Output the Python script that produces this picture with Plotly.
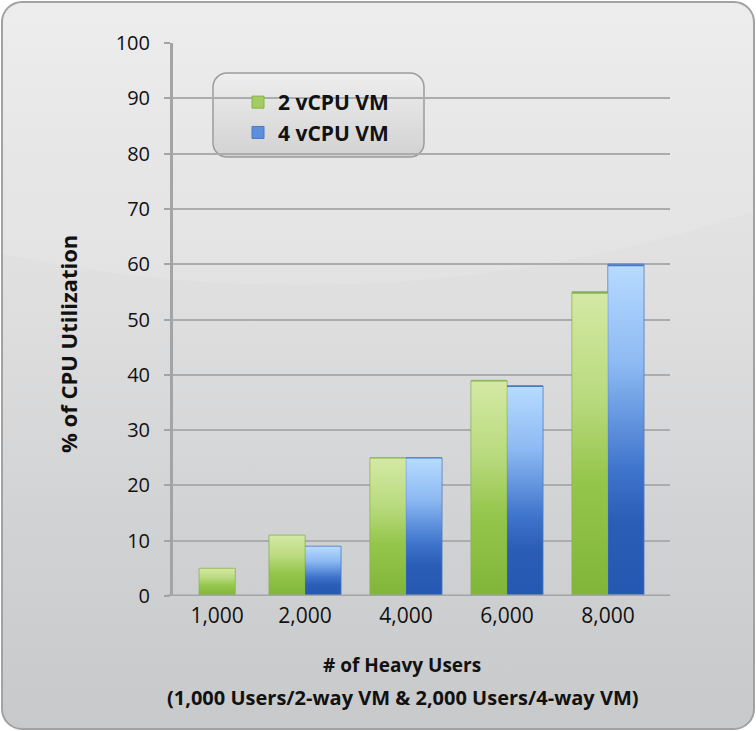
import urllib.parse
import plotly.graph_objects as go

# Chart data
users = ["1,000", "2,000", "4,000", "6,000", "8,000"]
cpu_2vcpu = [5, 11, 25, 39, 55]
cpu_4vcpu = [None, 9, 25, 38, 60]
y_ticks = [0, 10, 20, 30, 40, 50, 60, 70, 80, 90, 100]

# Layout geometry
W, H = 756, 731
ML, MR, MT, MB = 173, 86, 43, 135
PW, PH = W - ML - MR, H - MT - MB
cat_pos = [0.13, 1, 2, 3, 4]
bar_w = 0.356

green_off = [-bar_w / 2 if b is None else -bar_w for b in cpu_4vcpu]
blue_off = [0.0] * len(users)

FONT = "Open Sans"


def svg_uri(svg):
    return "data:image/svg+xml;charset=utf-8," + urllib.parse.quote(svg)


def bar_skin(stops, edge):
    """Vertical gradient fill with a thin outline, stretched over one bar."""
    st = "".join(f"<stop offset='{o}' stop-color='{c}'/>" for o, c in stops)
    return svg_uri(
        "<svg xmlns='http://www.w3.org/2000/svg' width='100' height='100' "
        "viewBox='0 0 100 100' preserveAspectRatio='none'>"
        f"<defs><linearGradient id='b' x1='0' y1='0' x2='0' y2='1'>{st}</linearGradient></defs>"
        f"<rect x='0' y='0' width='100' height='100' fill='url(#b)' stroke='{edge}' "
        "stroke-width='1.2' vector-effect='non-scaling-stroke'/></svg>"
    )


GREEN_SKIN = bar_skin([(0, "#d4e9a4"), (0.35, "#b9da7e"), (0.62, "#95c64c"), (1, "#80b538")], "#86b24c")
BLUE_SKIN = bar_skin([(0, "#b8dbff"), (0.3, "#8dbaf3"), (0.62, "#3f74cc"), (0.78, "#2a5db6"), (1, "#2458b2")], "#4b77c2")

fig = go.Figure()
fig.add_trace(go.Bar(
    name="2 vCPU VM", x=cat_pos, y=cpu_2vcpu, width=bar_w, offset=green_off,
    marker=dict(color="#a3cd60", line=dict(color="#86b24c", width=1)),
))
fig.add_trace(go.Bar(
    name="4 vCPU VM", x=cat_pos, y=cpu_4vcpu, width=bar_w, offset=blue_off,
    marker=dict(color="#5b8fdb", line=dict(color="#4b77c2", width=1)),
))

# gradient skins laid over each bar, sized from the bar's own value
for vals, offs, skin in ((cpu_2vcpu, green_off, GREEN_SKIN), (cpu_4vcpu, blue_off, BLUE_SKIN)):
    for xp, v, off in zip(cat_pos, vals, offs):
        if v is None:
            continue
        fig.add_layout_image(dict(
            source=skin, xref="x", yref="y", x=xp + off, y=v,
            sizex=bar_w, sizey=v, xanchor="left", yanchor="top",
            sizing="stretch", layer="above",
        ))

# panel background: rounded card with grey gradient and a soft highlight
panel = (
    "<svg xmlns='http://www.w3.org/2000/svg' width='756' height='731'>"
    "<defs><linearGradient id='g' x1='0' y1='0' x2='0' y2='1'>"
    "<stop offset='0' stop-color='#ebebec'/>"
    "<stop offset='0.4' stop-color='#dfdfe0'/>"
    "<stop offset='0.75' stop-color='#d0d1d2'/>"
    "<stop offset='1' stop-color='#c8c9cb'/>"
    "</linearGradient>"
    "<linearGradient id='l' x1='0' y1='0' x2='0' y2='1'>"
    "<stop offset='0' stop-color='#eeeeee'/>"
    "<stop offset='1' stop-color='#d2d2d3'/>"
    "</linearGradient>"
    "<clipPath id='c'><rect x='2' y='2' width='752' height='727' rx='20' ry='20'/></clipPath></defs>"
    "<rect x='0' y='0' width='756' height='731' fill='white'/>"
    "<rect x='2' y='2' width='752' height='727' rx='20' ry='20' fill='url(#g)'/>"
    "<g clip-path='url(#c)'><ellipse cx='300' cy='-620' rx='1150' ry='905' fill='white' fill-opacity='0.1'/></g>"
    "<rect x='2' y='2' width='752' height='727' rx='20' ry='20' fill='none' stroke='#a2a2a3' stroke-width='2'/>"
    "<rect x='213' y='73' width='211' height='84' rx='14' ry='14' fill='url(#l)' stroke='#9c9c9d' stroke-width='1.5'/>"
    "</svg>"
)
fig.add_layout_image(dict(
    source=svg_uri(panel), xref="paper", yref="paper",
    x=-ML / PW, y=1 + MT / PH, sizex=W / PW, sizey=H / PH,
    xanchor="left", yanchor="top", sizing="stretch", layer="below",
))

fig.update_layout(
    width=W, height=H,
    margin=dict(l=ML, r=MR, t=MT, b=MB, pad=0),
    paper_bgcolor="white", plot_bgcolor="rgba(0,0,0,0)",
    barmode="overlay",
    font=dict(family=FONT, size=20, color="#111111"),
    showlegend=True,
    legend=dict(
        x=(238 - ML) / PW, y=(596 - 82) / PH, xanchor="left", yanchor="top",
        bgcolor="rgba(0,0,0,0)", borderwidth=0,
        font=dict(family=FONT, size=21, color="#111111", weight="bold"),
        tracegroupgap=2, itemwidth=30,
    ),
    xaxis=dict(
        range=[-0.307, 4.614], tickvals=cat_pos, ticktext=users,
        showgrid=False, zeroline=False, showline=False,
        ticks="", tickfont=dict(size=21), ticklabelstandoff=5,
    ),
    yaxis=dict(
        range=[0, 100], tickvals=y_ticks, showgrid=True,
        gridcolor="#abacad", gridwidth=2, zeroline=False,
        showline=True, linecolor="#a3a4a5", linewidth=3,
        ticks="outside", ticklen=6, tickwidth=2, tickcolor="#a3a4a5",
        tickfont=dict(size=20), ticklabelstandoff=10,
    ),
)

# baseline of the value axis
fig.add_shape(type="line", xref="paper", yref="y", x0=-6 / PW, x1=1, y0=0, y1=0,
              line=dict(color="#a3a4a5", width=3), layer="above")

fig.add_annotation(text="<b>% of CPU Utilization</b>", xref="paper", yref="paper",
                   x=(68 - ML) / PW, y=(596 - 344) / PH, textangle=-90, showarrow=False,
                   xanchor="center", yanchor="middle", font=dict(size=22))
fig.add_annotation(text="<b># of Heavy Users</b>", xref="paper", yref="paper",
                   x=(402 - ML) / PW, y=-(665 - 596) / PH, showarrow=False,
                   xanchor="center", yanchor="middle", font=dict(size=19))
fig.add_annotation(text="<b>(1,000 Users/2-way VM & 2,000 Users/4-way VM)</b>",
                   xref="paper", yref="paper",
                   x=(403 - ML) / PW, y=-(697 - 596) / PH, showarrow=False,
                   xanchor="center", yanchor="middle", font=dict(size=20))

fig.write_html("out.html")
